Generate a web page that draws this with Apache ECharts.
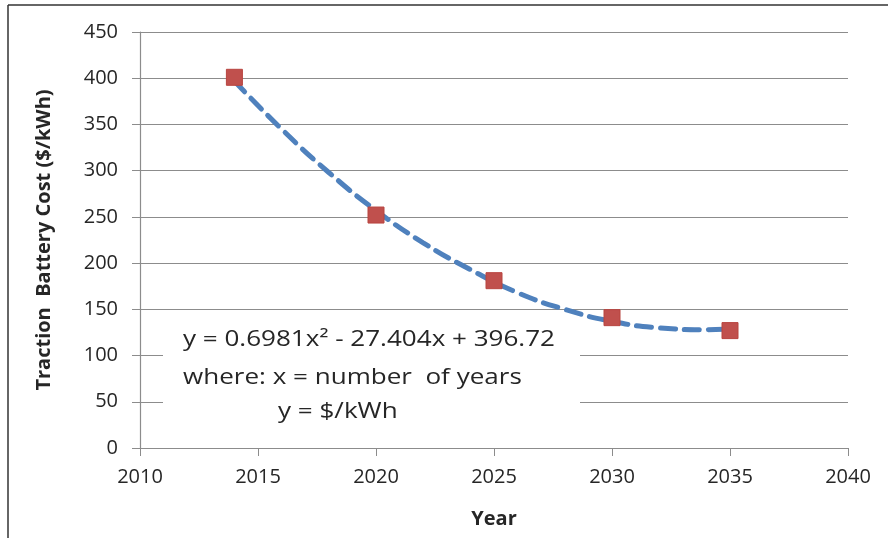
<!DOCTYPE html>
<html><head><meta charset="utf-8">
<script src="https://cdn.jsdelivr.net/npm/echarts@6/dist/echarts.min.js"></script>
<style>html,body{margin:0;padding:0;background:#fff}#c{width:888px;height:538px}</style>
</head><body><div id="c"></div>
<script>
// Observed data points (year, $/kWh)
var pointYears = [2014, 2020, 2025, 2030, 2035];
var pointCosts = [401, 252, 181, 141, 127];
// Dashed trendline values
var trendYears = [2014, 2016, 2018, 2020, 2022, 2024, 2026, 2028, 2030, 2032, 2034, 2035];
var trendCosts = [397, 345, 298, 257, 222, 193, 168, 150, 137, 130, 128, 129];
// Axis ticks
var xTicks = { min: 2010, max: 2040, step: 5 };
var yTicks = { min: 0, max: 450, step: 50 };
var xTitle = 'Year';
var yTitle = 'Traction  Battery Cost ($/kWh)';
var noteLines = ['y = 0.6981x² - 27.404x + 396.72', 'where: x = number  of years', 'y = $/kWh'];

var chart = echarts.init(document.getElementById('c'), null, {renderer: 'canvas'});
var font = 'Open Sans';
var txt = '#262626';
var grey = '#8c8c8c';
var noteFont = '21px "Open Sans"';
var noteScale = 1.24;
chart.setOption({
  animation: false,
  backgroundColor: '#fff',
  grid: {left: 140, right: 40, top: 32, bottom: 90, containLabel: false},
  xAxis: {
    type: 'value', min: xTicks.min, max: xTicks.max, interval: xTicks.step,
    name: xTitle, nameLocation: 'middle', nameGap: 61,
    nameTextStyle: {fontFamily: font, fontWeight: 'bold', fontSize: 20, color: txt},
    axisLine: {show: true, lineStyle: {color: grey, width: 1.2}},
    axisTick: {show: true, length: 8, lineStyle: {color: grey}},
    axisLabel: {fontFamily: font, fontSize: 20, color: txt, margin: 19,
      formatter: function (v) { return String(v); }},
    splitLine: {show: false}
  },
  yAxis: {
    type: 'value', min: yTicks.min, max: yTicks.max, interval: yTicks.step,
    name: yTitle, nameLocation: 'middle', nameGap: 86, nameRotate: 90,
    nameTextStyle: {fontFamily: font, fontWeight: 'bold', fontSize: 20, color: txt},
    axisLine: {show: true, lineStyle: {color: grey, width: 1.2}},
    axisTick: {show: true, length: 8, lineStyle: {color: grey}},
    axisLabel: {fontFamily: font, fontSize: 20, color: txt, margin: 22},
    splitLine: {show: true, lineStyle: {color: grey, width: 1.2}}
  },
  graphic: [
    {type: 'line', shape: {x1: 8, y1: 5, x2: 888, y2: 5}, style: {stroke: '#333', lineWidth: 1.5}, z: 100},
    {type: 'line', shape: {x1: 8, y1: 5, x2: 8, y2: 538}, style: {stroke: '#333', lineWidth: 1.5}, z: 100},
    {type: 'rect', shape: {x: 163, y: 320, width: 417, height: 120}, style: {fill: '#fff'}, z: 50},
    {type: 'text', x: 183, y: 340, scaleX: noteScale, style: {text: noteLines[0], font: noteFont, fill: txt, textVerticalAlign: 'middle'}, z: 60},
    {type: 'text', x: 183, y: 378, scaleX: noteScale, style: {text: noteLines[1], font: noteFont, fill: txt, textVerticalAlign: 'middle'}, z: 60},
    {type: 'text', x: 278, y: 412, scaleX: noteScale, style: {text: noteLines[2], font: noteFont, fill: txt, textVerticalAlign: 'middle'}, z: 60}
  ],
  series: [
    {
      type: 'line', smooth: true, showSymbol: false, z: 3,
      data: trendYears.map(function (y, i) { return [y, trendCosts[i]]; }),
      lineStyle: {color: '#4F81BD', width: 5, type: [15, 9], cap: 'round'}
    },
    {
      type: 'scatter', symbol: 'rect', symbolSize: 16, z: 4,
      data: pointYears.map(function (y, i) { return [y, pointCosts[i]]; }),
      itemStyle: {color: '#C0504D', borderColor: '#b8443f', borderWidth: 1, opacity: 1}
    }
  ]
});
</script></body></html>
